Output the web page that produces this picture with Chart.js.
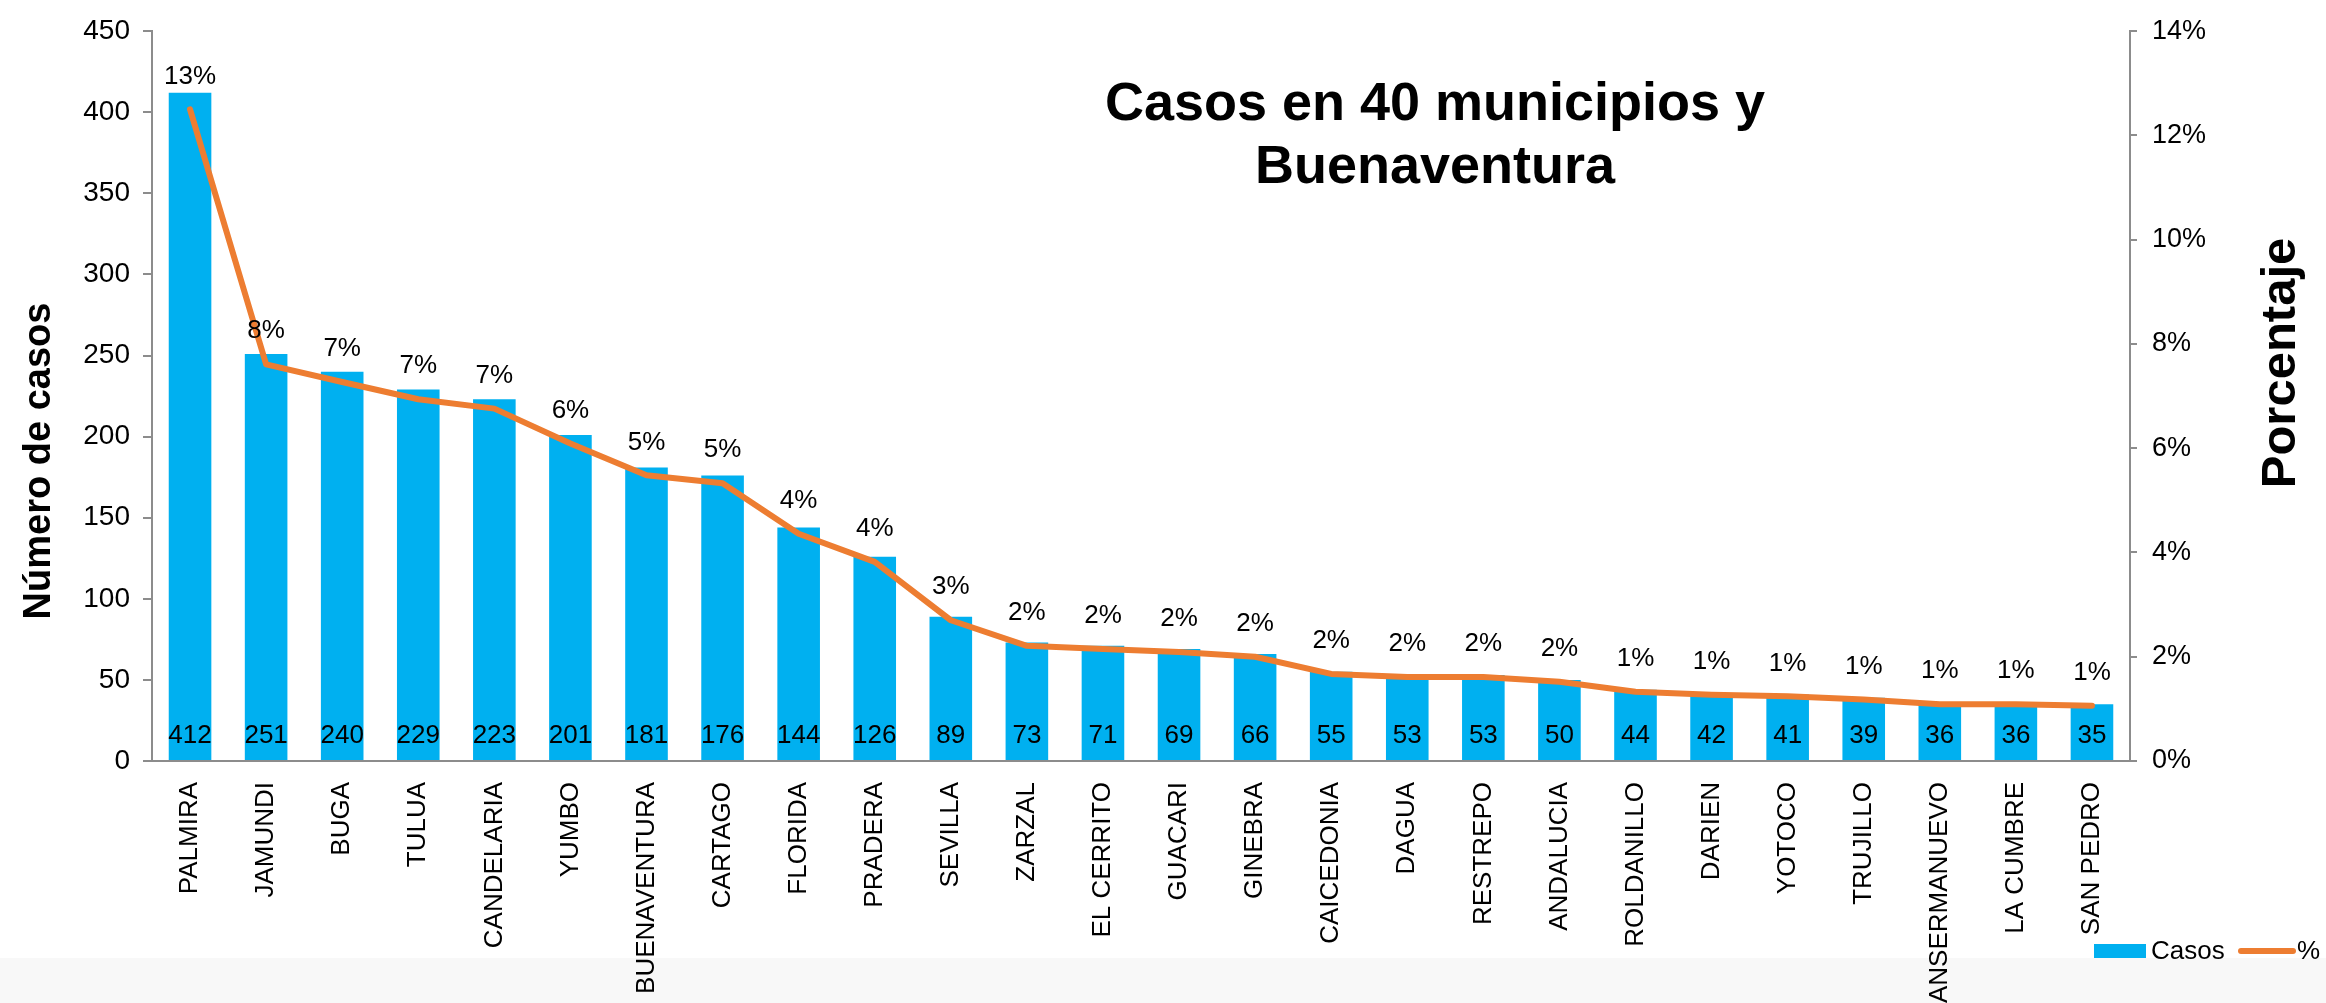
<!DOCTYPE html>
<html>
<head>
<meta charset="utf-8">
<script src="https://cdn.jsdelivr.net/npm/chart.js@4.4.1/dist/chart.umd.min.js"></script>
<style>
html,body{margin:0;padding:0;background:#fff;}
#wrap{width:2326px;height:1003px;position:relative;}
</style>
</head>
<body>
<div id="wrap"><canvas id="c" width="2326" height="1003"></canvas></div>
<script>
const categories = ['PALMIRA','JAMUNDI','BUGA','TULUA','CANDELARIA','YUMBO','BUENAVENTURA','CARTAGO','FLORIDA','PRADERA','SEVILLA','ZARZAL','EL CERRITO','GUACARI','GINEBRA','CAICEDONIA','DAGUA','RESTREPO','ANDALUCIA','ROLDANILLO','DARIEN','YOTOCO','TRUJILLO','ANSERMANUEVO','LA CUMBRE','SAN PEDRO'];
const casos = [412,251,240,229,223,201,181,176,144,126,89,73,71,69,66,55,53,53,50,44,42,41,39,36,36,35];
const porcentaje = [12.5,7.61,7.27,6.94,6.76,6.09,5.48,5.33,4.36,3.82,2.70,2.21,2.15,2.09,2.00,1.67,1.61,1.61,1.52,1.33,1.27,1.24,1.18,1.09,1.09,1.06];
const porcentajeEtiquetas = ['13%','8%','7%','7%','7%','6%','5%','5%','4%','4%','3%','2%','2%','2%','2%','2%','2%','2%','2%','1%','1%','1%','1%','1%','1%','1%'];
const casosTicks = {min:0, max:450, step:50};
const pctTicks = {min:0, max:14, step:2};
const titleLines = ['Casos en 40 municipios y','Buenaventura'];
const leftAxisTitle = 'Número de casos';
const rightAxisTitle = 'Porcentaje';
const legendNames = ['Casos','%'];

const FONT = "'Liberation Sans', Arial, sans-serif";
const BLUE = '#00B0F0';
const ORANGE = '#ED7D31';
const AXIS = '#8c8c8c';

const decorPlugin = {
  id: 'decor',
  beforeDraw(chart) {
    const ctx = chart.ctx;
    ctx.save();
    ctx.fillStyle = '#ffffff';
    ctx.fillRect(0, 0, chart.width, chart.height);
    ctx.fillStyle = '#f8f8f8';
    ctx.fillRect(0, 958, chart.width, chart.height - 958);
    ctx.restore();
  },
  afterDatasetsDraw(chart) {
    const ctx = chart.ctx;
    const x = chart.scales.x, y = chart.scales.y, y2 = chart.scales.y2;
    ctx.save();
    ctx.fillStyle = '#000';
    ctx.textAlign = 'center';
    ctx.textBaseline = 'middle';
    ctx.font = `26px ${FONT}`;
    const base = y.getPixelForValue(0);
    casos.forEach((v, i) => {
      ctx.fillText(String(v), x.getPixelForValue(i), base - 25);
    });
    porcentaje.forEach((v, i) => {
      ctx.fillText(porcentajeEtiquetas[i], x.getPixelForValue(i), y2.getPixelForValue(v) - 33);
    });
    ctx.restore();
  },
  afterDraw(chart) {
    const ctx = chart.ctx;
    ctx.save();
    ctx.fillStyle = '#000';
    // title
    ctx.font = `bold 54px ${FONT}`;
    ctx.textAlign = 'center';
    ctx.textBaseline = 'alphabetic';
    ctx.fillText(titleLines[0], 1435, 120);
    ctx.fillText(titleLines[1], 1435, 183);
    // left axis title
    ctx.save();
    ctx.translate(40, 461);
    ctx.rotate(-Math.PI / 2);
    ctx.font = `bold 38px ${FONT}`;
    ctx.textBaseline = 'middle';
    ctx.fillText(leftAxisTitle, 0, 0);
    ctx.restore();
    // right axis title
    ctx.save();
    ctx.translate(2281, 363);
    ctx.rotate(-Math.PI / 2);
    ctx.font = `bold 49px ${FONT}`;
    ctx.textBaseline = 'middle';
    ctx.fillText(rightAxisTitle, 0, 0);
    ctx.restore();
    // legend
    ctx.fillStyle = BLUE;
    ctx.fillRect(2094, 944, 52, 14);
    ctx.fillStyle = '#000';
    ctx.font = `26px ${FONT}`;
    ctx.textAlign = 'left';
    ctx.textBaseline = 'middle';
    ctx.fillText(legendNames[0], 2151, 952);
    ctx.strokeStyle = ORANGE;
    ctx.lineWidth = 6;
    ctx.lineCap = 'round';
    ctx.beginPath();
    ctx.moveTo(2241, 951);
    ctx.lineTo(2293, 951);
    ctx.stroke();
    ctx.fillText(legendNames[1], 2297, 952);
    ctx.restore();
  }
};

new Chart(document.getElementById('c'), {
  data: {
    labels: categories,
    datasets: [
      {
        type: 'line',
        label: legendNames[1],
        data: porcentaje,
        yAxisID: 'y2',
        borderColor: ORANGE,
        backgroundColor: ORANGE,
        borderWidth: 6,
        pointRadius: 0,
        tension: 0,
        borderCapStyle: 'round',
        borderJoinStyle: 'round',
        order: 1
      },
      {
        type: 'bar',
        label: legendNames[0],
        data: casos,
        yAxisID: 'y',
        backgroundColor: BLUE,
        borderWidth: 0,
        barPercentage: 0.56,
        categoryPercentage: 1.0,
        order: 2
      }
    ]
  },
  options: {
    responsive: false,
    animation: false,
    devicePixelRatio: 1,
    layout: { padding: { top: 23, left: 0, right: 0, bottom: 0 } },
    plugins: { legend: { display: false }, title: { display: false }, tooltip: { enabled: false } },
    scales: {
      x: {
        offset: true,
        grid: { display: false },
        border: { display: true, color: AXIS, width: 2 },
        ticks: {
          autoSkip: false, maxRotation: 90, minRotation: 90, padding: 13,
          color: '#000', font: { family: FONT, size: 26 }
        },
        afterFit(s) { s.height = 242; }
      },
      y: {
        position: 'left',
        min: casosTicks.min, max: casosTicks.max,
        grid: { display: true, drawOnChartArea: false, drawTicks: true, tickLength: 9, color: AXIS, lineWidth: 2 },
        border: { display: true, color: AXIS, width: 2 },
        ticks: { stepSize: casosTicks.step, padding: 13, color: '#000', font: { family: FONT, size: 28 } },
        afterFit(s) { s.width = 152; }
      },
      y2: {
        position: 'right',
        min: pctTicks.min, max: pctTicks.max,
        grid: { display: true, drawOnChartArea: false, drawTicks: true, tickLength: 7, color: AXIS, lineWidth: 2 },
        border: { display: true, color: AXIS, width: 2 },
        ticks: { stepSize: pctTicks.step, padding: 15, color: '#000', font: { family: FONT, size: 27 },
          callback: v => v + '%' },
        afterFit(s) { s.width = 196; }
      }
    }
  },
  plugins: [decorPlugin]
});
</script>
</body>
</html>
